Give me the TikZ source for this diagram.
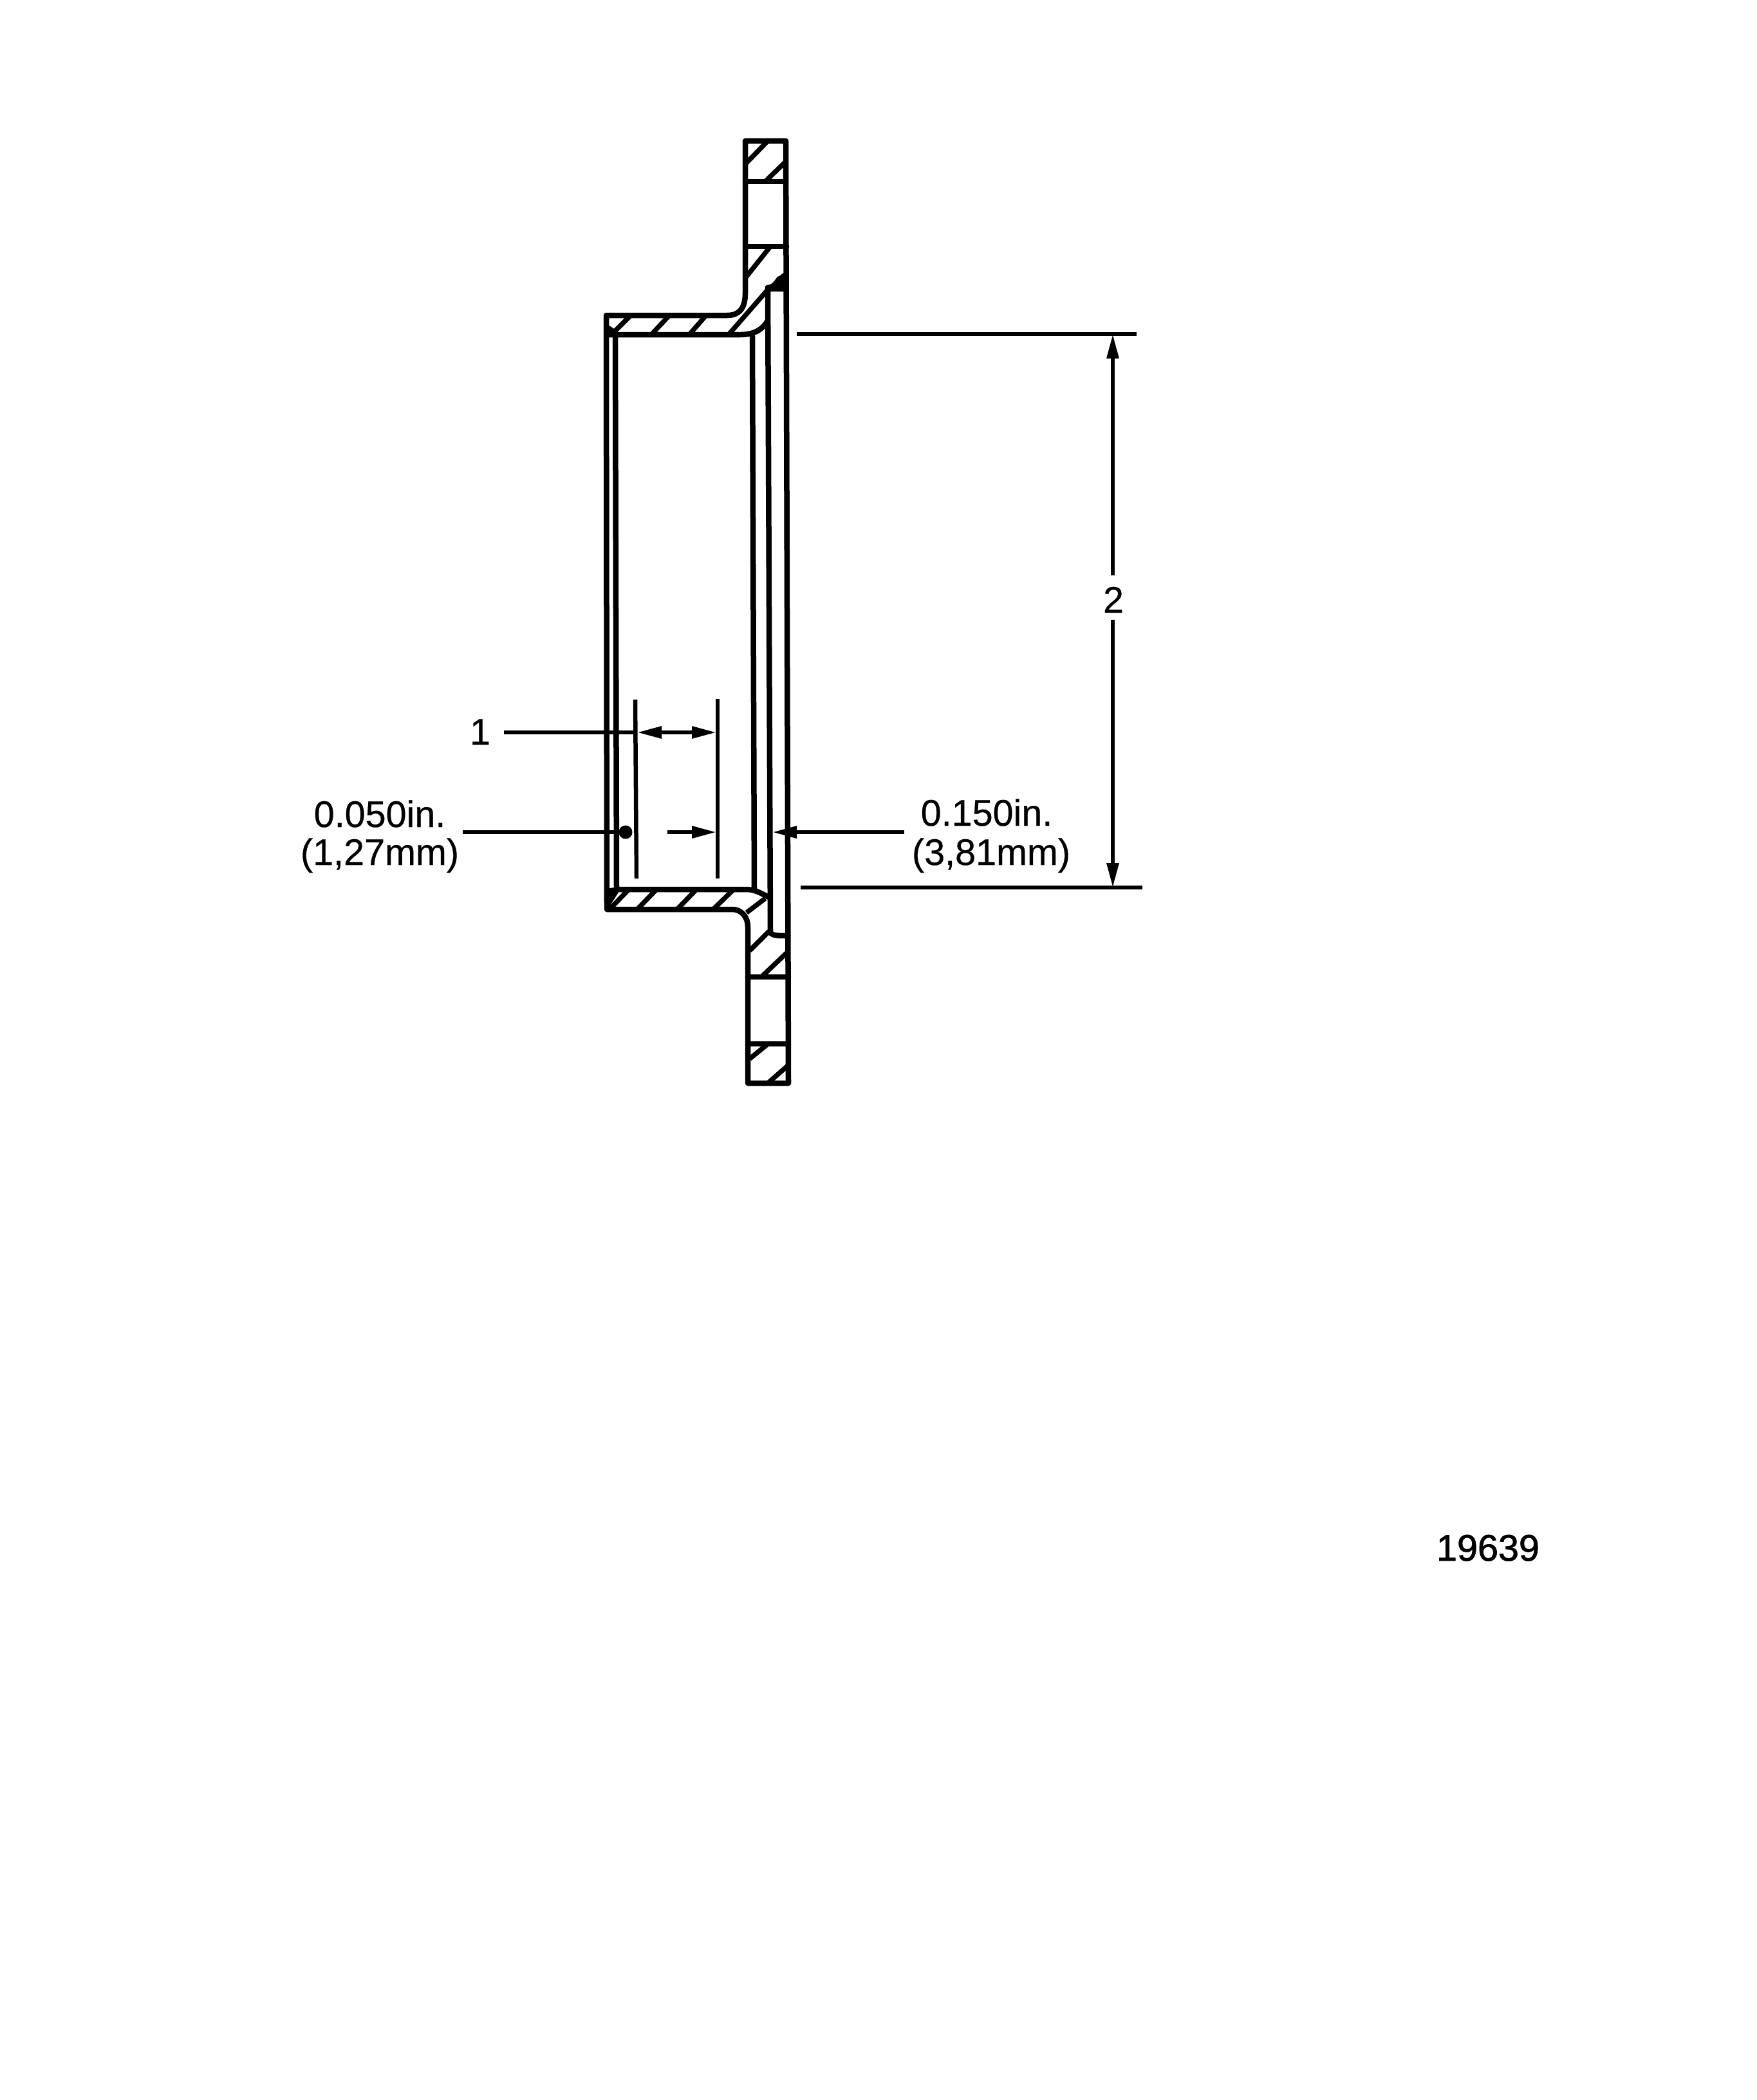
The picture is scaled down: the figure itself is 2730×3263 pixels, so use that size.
\documentclass[tikz,border=0pt]{standalone}
\usepackage{fontspec}
\setmainfont[FakeBold=0.5]{Liberation Sans}
\newfontface\idfont[FakeBold=1.4]{Liberation Sans}
\usetikzlibrary{arrows.meta}
\tikzset{
  part/.style={line width=8.5pt,line join=round,line cap=round},
  hatch/.style={line width=7.5pt,line cap=butt},
  dimline/.style={line width=6.5pt,line cap=butt},
  dimarrow/.style={line width=6pt,{Triangle[length=38pt,width=18pt]}-{Triangle[length=38pt,width=18pt]}},
  leader/.style={line width=6pt,-{Triangle[length=38pt,width=18pt]}},
  lbl/.style={anchor=base,inner sep=0pt,font=\fontsize{57.5}{60}\selectfont}
}
\begin{document}
\begin{tikzpicture}[x=1pt,y=-1pt]
\useasboundingbox (0,0) rectangle (2730,3263);
\fill[white] (0,0) rectangle (2730,3263);
% outer profile
\draw[part] (1221,219) -- (1158,219) -- (1158,455)
  .. controls (1158,480) and (1148,490) .. (1130,490)
  -- (942,490) -- (943,1413) -- (1138,1413)
  .. controls (1152,1413) and (1162,1425) .. (1162,1440)
  -- (1162,1683) -- (1225,1683) -- cycle;
% bolt-hole edges
\draw[part] (1158,282) -- (1221,282);
\draw[part] (1158,383) -- (1222,383);
\draw[part] (1162,1518) -- (1225,1518);
\draw[part] (1162,1622) -- (1225,1622);
% bore walls
\draw[part] (956,520) -- (958,1382);
\draw[part] (946,520) -- (1150,520) .. controls (1172,520) and (1185,512) .. (1193,498);
\draw[part] (958,1382) -- (1160,1382) .. controls (1175,1382) and (1185,1390) .. (1195,1394);
\draw[part] (1169,522) -- (1172,1382);
% recess
\draw[part] (1193,447) -- (1197,1447);
\draw[part] (1193,447) .. controls (1203,447) and (1208,436) .. (1219,428);
\draw[part] (1193,449) -- (1221,449);
\draw[part] (1197,1449) .. controls (1200,1454) and (1210,1454) .. (1224,1454);
\fill (1208,430) -- (1222,425) -- (1222,450) -- (1193,450) -- cycle;
% corner blacks
\fill (939,1382) -- (958,1378) -- (962,1385) -- (946,1410) -- (939,1412) -- cycle;
\fill (945,505) -- (953,510) -- (958,516) -- (958,523) -- (945,523) -- cycle;
% hatching, top
\draw[hatch] (1158,255) -- (1193,219);
\draw[hatch] (1189,282) -- (1221,251);
\draw[hatch] (1158,432) -- (1197,383);
\draw[hatch] (950,520) -- (980,490);
\draw[hatch] (1012,520) -- (1040,490);
\draw[hatch] (1071,520) -- (1097,490);
\draw[hatch] (1132,520) -- (1193,450);
% hatching, bottom
\draw[hatch] (947,1413) -- (977,1382);
\draw[hatch] (990,1413) -- (1020,1382);
\draw[hatch] (1052,1413) -- (1082,1382);
\draw[hatch] (1108,1413) -- (1140,1382);
\draw[hatch] (1160,1418) -- (1189,1396);
\draw[hatch] (1165,1477) -- (1195,1447);
\draw[hatch] (1183,1518) -- (1225,1478);
\draw[hatch] (1165,1645) -- (1192,1623);
\draw[hatch] (1193,1683) -- (1225,1655);
% dimension extension lines
\coordinate (e1t) at (987,1087); \coordinate (e1b) at (989,1365);
\coordinate (e2t) at (1115,1086); \coordinate (e2b) at (1115,1365);
\coordinate (e3l) at (1238,519); \coordinate (e3r) at (1766,519);
\coordinate (e4l) at (1244,1379); \coordinate (e4r) at (1775,1379);
\draw[dimline] (e1t) -- (e1b);
\draw[dimline] (e2t) -- (e2b);
\draw[dimline] (e3l) -- (e3r);
\draw[dimline] (e4l) -- (e4r);
% labels
\node[lbl] (n1) at (746,1157) {1};
\node[lbl] (n2) at (1730,952) {2};
\node[lbl] (a1) at (590,1285) {0.050in.};
\node[lbl] (a2) at (590,1344) {(1,27mm)};
\node[lbl] (b1) at (1533,1283) {0.150in.};
\node[lbl] (b2) at (1540,1344) {(3,81mm)};
\node[lbl,font=\fontsize{57.5}{60}\idfont] (id) at (2312,2425) {19639};
% dimension 2
\coordinate (d2t) at (1729,519); \coordinate (d2a) at (1729,894);
\coordinate (d2b) at (1729,963); \coordinate (d2c) at (1729,1379);
\draw[leader] (d2a) -- (d2t);
\draw[leader] (d2b) -- (d2c);
% dimension 1
\coordinate (l1) at (783,1138); \coordinate (t1) at (990,1138); \coordinate (t2) at (1113,1138);
\draw[dimline] (l1) -- (t1);
\draw[dimarrow] (t1) -- (t2);
% thickness leaders
\coordinate (l2) at (719,1293); \coordinate (dot) at (972,1293);
\draw[dimline] (l2) -- (dot);
\fill (dot) circle (10.5pt);
\coordinate (l3) at (1037,1293); \coordinate (t3) at (1113,1293);
\draw[leader] (l3) -- (t3);
\coordinate (l4) at (1405,1293); \coordinate (t4) at (1200,1293);
\draw[leader] (l4) -- (t4);
\end{tikzpicture}
\end{document}
